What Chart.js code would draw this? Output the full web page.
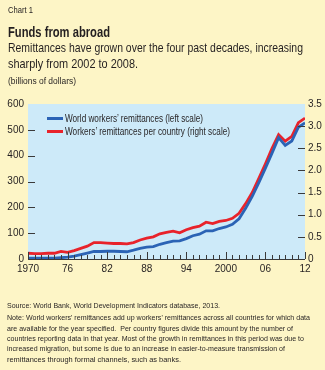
<!DOCTYPE html>
<html><head><meta charset="utf-8">
<script src="https://cdn.jsdelivr.net/npm/chart.js@4.4.1/dist/chart.umd.min.js"></script>
<style>
html,body{margin:0;padding:0;}
body{width:325px;height:370px;background:#fdf5c6;position:relative;overflow:hidden;color:#231f20;
 font-family:"Liberation Sans",Arial,sans-serif;}
.t{position:absolute;white-space:nowrap;transform-origin:0 0;display:inline-block;}
#c{position:absolute;left:0;top:0;}
.sw{position:absolute;width:16px;height:3px;}
</style></head>
<body>
<canvas id="c" width="325" height="370"></canvas>
<div class="t" data-w="25" style="left:8px;top:5px;font-size:9px;">Chart 1</div>
<div class="t" data-w="102" style="left:8px;top:23px;font-size:15px;font-weight:bold;">Funds from abroad</div>
<div class="t" data-w="295" style="left:8px;top:40px;font-size:13.5px;">Remittances have grown over the four past decades, increasing</div>
<div class="t" data-w="130" style="left:8px;top:56px;font-size:13.5px;">sharply from 2002 to 2008.</div>
<div class="t" data-w="68" style="left:8px;top:76px;font-size:9px;">(billions of dollars)</div>
<div class="sw" style="left:47px;top:117px;background:#2b63b5"></div>
<div class="t" data-w="138" style="left:65px;top:112px;font-size:10.5px;">World workers’ remittances (left scale)</div>
<div class="sw" style="left:47px;top:130px;background:#e8232b"></div>
<div class="t" data-w="165" style="left:65px;top:125px;font-size:10.5px;">Workers’ remittances per country (right scale)</div>
<div class="t" data-w="213" style="left:7px;top:301px;font-size:8px;">Source: World Bank, World Development Indicators database, 2013.</div>
<div class="t" data-w="303" style="left:7px;top:313px;font-size:8px;">Note: World workers' remittances add up workers' remittances across all countries for which data</div>
<div class="t" data-w="286" style="left:7px;top:323.5px;font-size:8px;">are available for the year specified.&nbsp; Per country figures divide this amount by the number of</div>
<div class="t" data-w="297" style="left:7px;top:334px;font-size:8px;">countries reporting data in that year. Most of the growth in remittances in this period was due to</div>
<div class="t" data-w="278" style="left:7px;top:344px;font-size:8px;">increased migration, but some is due to an increase in easier-to-measure transmission of</div>
<div class="t" data-w="174" style="left:7px;top:354.5px;font-size:8px;">remittances through formal channels, such as banks.</div>
<script>
document.querySelectorAll('.t[data-w]').forEach(el=>{
  const w = el.getBoundingClientRect().width;
  const tw = parseFloat(el.dataset.w);
  el.style.transform = 'scaleX(' + (tw / w) + ')';
});

const years = [1970,1971,1972,1973,1974,1975,1976,1977,1978,1979,1980,1981,1982,1983,1984,1985,1986,1987,1988,1989,1990,1991,1992,1993,1994,1995,1996,1997,1998,1999,2000,2001,2002,2003,2004,2005,2006,2007,2008,2009,2010,2011,2012];
const worldRemittances = [3,3,3,3,3,5,7,11,17,23,29,29,30,30,29,28,34,41,46,48,57,63,69,70,79,90,96,109,109,118,124,134,156,196,242,296,352,410,470,440,457,510,527];
const perCountry = [0.13,0.12,0.12,0.13,0.13,0.17,0.15,0.19,0.24,0.29,0.37,0.37,0.36,0.35,0.35,0.34,0.37,0.43,0.47,0.50,0.57,0.60,0.63,0.59,0.66,0.71,0.74,0.83,0.80,0.85,0.87,0.92,1.03,1.25,1.50,1.82,2.15,2.50,2.81,2.66,2.77,3.08,3.18];
const xTickYears = [1970,1976,1982,1988,1994,2000,2006,2012];
const xTickLabels = ["1970","76","82","88","94","2000","06","12"];
const leftTicks = [0,100,200,300,400,500,600];
const rightTicks = [0,0.5,1.0,1.5,2.0,2.5,3.0,3.5];

const TXT = '#231f20';
const FONT = '"Liberation Sans",Arial,sans-serif';

const bgPlugin = {
  id:'bg',
  beforeDraw(chart){
    const {ctx, chartArea:a} = chart;
    ctx.save(); ctx.fillStyle='#cdeaf9';
    ctx.fillRect(a.left,a.top,a.right-a.left,a.bottom-a.top);
    ctx.restore();
  },
  afterDatasetsDraw(chart){
    const {ctx, chartArea:a, scales} = chart;
    ctx.save();
    ctx.strokeStyle='#3a3a3a'; ctx.lineWidth=1;
    ctx.beginPath(); ctx.moveTo(a.left,Math.round(a.bottom)+0.5); ctx.lineTo(a.right,Math.round(a.bottom)+0.5); ctx.stroke();
    years.forEach(y=>{
      const x = Math.round(scales.x.getPixelForValue(y))+0.5;
      const len = xTickYears.includes(y) ? 7 : 4;
      ctx.beginPath(); ctx.moveTo(x,a.bottom); ctx.lineTo(x,a.bottom-len); ctx.stroke();
    });
    leftTicks.forEach(v=>{
      if(v===0||v===600) return;
      const y = Math.round(scales.y.getPixelForValue(v))+0.5;
      ctx.beginPath(); ctx.moveTo(a.left,y); ctx.lineTo(a.left+7,y); ctx.stroke();
    });
    rightTicks.forEach(v=>{
      if(v===0||v===3.5) return;
      const y = Math.round(scales.y2.getPixelForValue(v))+0.5;
      ctx.beginPath(); ctx.moveTo(a.right-7,y); ctx.lineTo(a.right,y); ctx.stroke();
    });
    ctx.restore();
  }
};

new Chart(document.getElementById('c'), {
  type:'line',
  data:{
    datasets:[
      {label:'Workers’ remittances per country (right scale)', data:years.map((y,i)=>({x:y,y:perCountry[i]})), yAxisID:'y2',
       borderColor:'#e8232b', borderWidth:2.8, pointRadius:0, tension:0, order:2},
      {label:'World workers’ remittances (left scale)', data:years.map((y,i)=>({x:y,y:worldRemittances[i]})), yAxisID:'y',
       borderColor:'#2b63b5', borderWidth:2.8, pointRadius:0, tension:0, order:1}
    ]
  },
  options:{
    responsive:false, animation:false, devicePixelRatio:1,
    layout:{padding:{top:104,left:0,right:0,bottom:0}},
    plugins:{legend:{display:false}, tooltip:{enabled:false}},
    scales:{
      x:{type:'linear', min:1970, max:2012, border:{display:false}, grid:{display:false, drawTicks:false},
         afterBuildTicks(s){ s.ticks = xTickYears.map(v=>({value:v})); },
         ticks:{autoSkip:false, maxRotation:0, padding:4, color:TXT, font:{family:FONT,size:10}},
         afterTickToLabelConversion(s){ s.ticks.forEach(t=>{ const i = xTickYears.indexOf(t.value); t.label = i>=0 ? xTickLabels[i] : ''; }); },
         afterFit(s){ s.height = 111; }},
      y:{position:'left', min:0, max:600, border:{display:false}, grid:{display:false, drawTicks:false},
         afterBuildTicks(s){ s.ticks = leftTicks.map(v=>({value:v})); },
         ticks:{padding:4, color:TXT, font:{family:FONT,size:10}},
         afterFit(s){ s.width = 28; }},
      y2:{position:'right', min:0, max:3.5, border:{display:false}, grid:{display:false, drawTicks:false},
         afterBuildTicks(s){ s.ticks = rightTicks.map(v=>({value:v})); },
         ticks:{padding:3, color:TXT, font:{family:FONT,size:10}, callback(v){ return v===0?'0':v.toFixed(1); }},
         afterFit(s){ s.width = 20; }}
    }
  },
  plugins:[bgPlugin]
});
</script>
</body></html>
